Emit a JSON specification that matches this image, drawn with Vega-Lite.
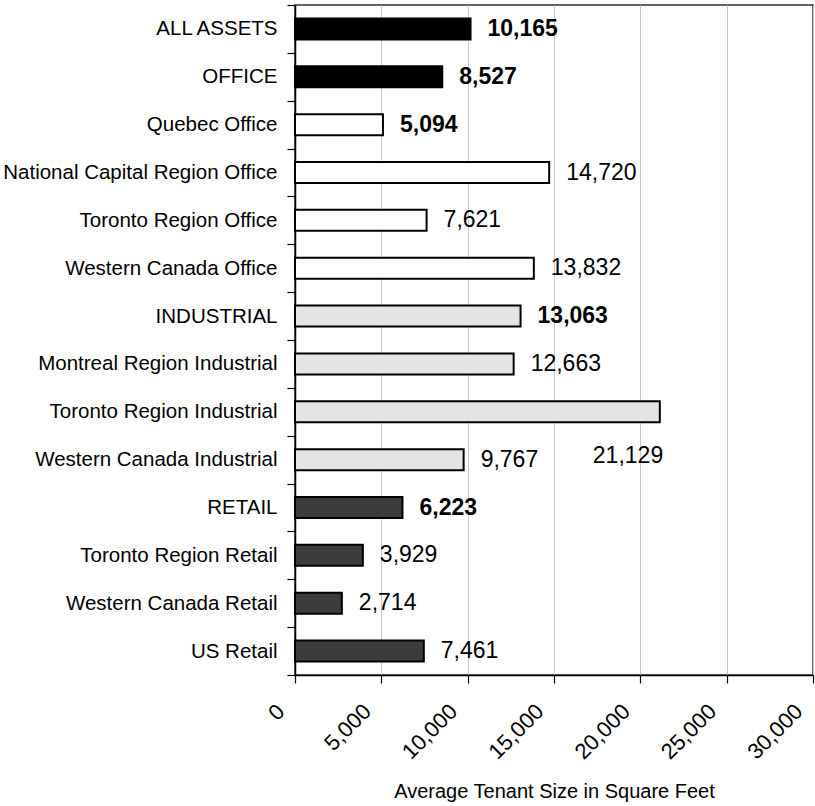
{
  "$schema": "https://vega.github.io/schema/vega-lite/v6.json",
  "width": 518,
  "height": 670,
  "autosize": {"type": "none"},
  "padding": {"left": 295, "top": 5, "right": 2, "bottom": 131},
  "background": "white",
  "config": {
    "font": "Liberation Sans",
    "view": {"stroke": "#333", "strokeWidth": 1.5},
    "axis": {"labelColor": "black", "titleColor": "black", "domainColor": "black", "tickColor": "black", "labelFont": "Liberation Sans", "titleFont": "Liberation Sans"}
  },
  "data": {
    "values": [
      {"category": "ALL ASSETS", "sector": "Portfolio", "level": "total", "value": 10165},
      {"category": "OFFICE", "sector": "Office", "level": "total", "value": 8527},
      {"category": "Quebec Office", "sector": "Office", "level": "region", "value": 5094},
      {"category": "National Capital Region Office", "sector": "Office", "level": "region", "value": 14720},
      {"category": "Toronto Region Office", "sector": "Office", "level": "region", "value": 7621},
      {"category": "Western Canada Office", "sector": "Office", "level": "region", "value": 13832},
      {"category": "INDUSTRIAL", "sector": "Industrial", "level": "total", "value": 13063},
      {"category": "Montreal Region Industrial", "sector": "Industrial", "level": "region", "value": 12663},
      {"category": "Toronto Region Industrial", "sector": "Industrial", "level": "region", "value": 21129},
      {"category": "Western Canada Industrial", "sector": "Industrial", "level": "region", "value": 9767},
      {"category": "RETAIL", "sector": "Retail", "level": "total", "value": 6223},
      {"category": "Toronto Region Retail", "sector": "Retail", "level": "region", "value": 3929},
      {"category": "Western Canada Retail", "sector": "Retail", "level": "region", "value": 2714},
      {"category": "US Retail", "sector": "Retail", "level": "region", "value": 7461}
    ]
  },
  "encoding": {
    "y": {
      "field": "category", "type": "nominal", "sort": null,
      "scale": {"paddingInner": 0, "paddingOuter": 0},
      "axis": {"title": null, "labelFontSize": 20.5, "labelPadding": 10, "tickSize": 8, "tickBand": "extent", "domainWidth": 1.5, "tickWidth": 1.2, "labelLimit": 400}
    },
    "x": {
      "field": "value", "type": "quantitative",
      "scale": {"domain": [0, 30000], "nice": false},
      "axis": {"title": "Average Tenant Size in Square Feet", "titleFontSize": 20, "titleFontWeight": "normal", "titlePadding": 19, "values": [0, 5000, 10000, 15000, 20000, 25000, 30000], "format": ",d", "labelAngle": -45, "labelAlign": "right", "labelBaseline": "bottom", "labelFontSize": 22, "labelPadding": 33, "labelOffset": -6, "tickSize": 8, "gridColor": "#c8c8c8", "gridWidth": 1, "domainWidth": 1.5, "tickWidth": 1.2}
    }
  },
  "layer": [
    {
      "mark": {"type": "bar", "size": 21, "stroke": "black", "strokeWidth": 2},
      "encoding": {
        "fill": {
          "condition": [
            {"test": "datum.level == 'total' && (datum.sector == 'Portfolio' || datum.sector == 'Office')", "value": "#000000"},
            {"test": "datum.sector == 'Office'", "value": "#ffffff"},
            {"test": "datum.sector == 'Industrial'", "value": "#e4e4e4"}
          ],
          "value": "#3c3c3c"
        }
      }
    },
    {
      "transform": [{"filter": "indexof(['ALL ASSETS','OFFICE','Quebec Office','INDUSTRIAL','RETAIL'], datum.category) >= 0"}],
      "mark": {"type": "text", "align": "left", "baseline": "middle", "dx": 17, "fontSize": 23, "fontWeight": "bold", "color": "black"},
      "encoding": {"text": {"field": "value", "type": "quantitative", "format": ",d"}}
    },
    {
      "transform": [{"filter": "indexof(['ALL ASSETS','OFFICE','Quebec Office','INDUSTRIAL','RETAIL','Toronto Region Industrial'], datum.category) < 0"}],
      "mark": {"type": "text", "align": "left", "baseline": "middle", "dx": 17, "fontSize": 23, "color": "black"},
      "encoding": {"text": {"field": "value", "type": "quantitative", "format": ",d"}}
    },
    {
      "transform": [{"filter": "datum.category == 'Toronto Region Industrial'"}],
      "mark": {"type": "text", "align": "left", "baseline": "middle", "dx": -67, "dy": 44, "fontSize": 23, "color": "black"},
      "encoding": {"text": {"field": "value", "type": "quantitative", "format": ",d"}}
    }
  ]
}
